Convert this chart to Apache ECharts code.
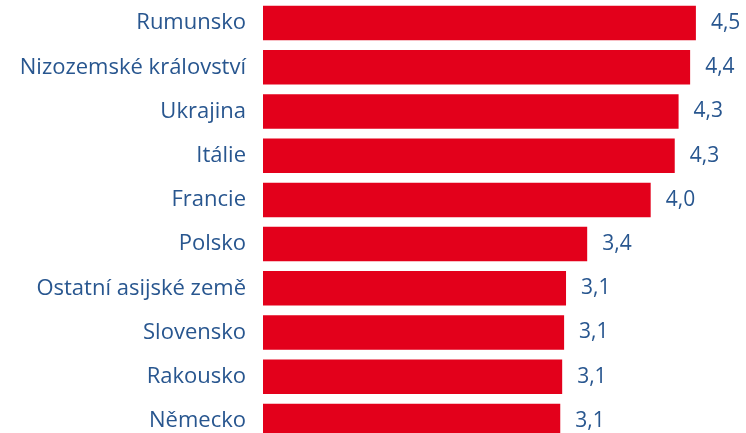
<!DOCTYPE html>
<html>
<head>
<meta charset="utf-8">
<script src="https://cdn.jsdelivr.net/npm/echarts@6/dist/echarts.min.js"></script>
<style>
  html, body { margin: 0; padding: 0; background: #fff; overflow: hidden; }
  /* graf je v originale dole oriznuty, proto je kontejner vyssi nez okno */
  #chart { width: 746px; height: 443px; }
</style>
</head>
<body>
<div id="chart"></div>
<script>
// zeme (shora dolu)
var countries = ['Rumunsko', 'Nizozemské království', 'Ukrajina', 'Itálie', 'Francie',
  'Polsko', 'Ostatní asijské země', 'Slovensko', 'Rakousko', 'Německo'];
// hodnoty odhadnute z delky sloupcu
var values = [4.50, 4.44, 4.32, 4.28, 4.03, 3.37, 3.15, 3.13, 3.11, 3.09];

var textColor = '#28568f';
var barColor = '#e3001b';

var chart = echarts.init(document.getElementById('chart'));

var option = {
  animation: false,
  grid: {
    left: 263,
    right: 2,
    top: 1,
    bottom: 0,
    containLabel: false
  },
  xAxis: {
    type: 'value',
    min: 0,
    max: 5,
    show: false
  },
  yAxis: {
    type: 'category',
    inverse: true,
    data: countries,
    axisLine: { show: false },
    axisTick: { show: false },
    axisLabel: {
      color: textColor,
      fontFamily: 'Open Sans',
      fontSize: 22,
      margin: 17
    }
  },
  series: [{
    type: 'bar',
    data: values,
    barCategoryGap: '22%',
    itemStyle: { color: barColor },
    label: {
      show: true,
      position: 'right',
      distance: 15,
      color: textColor,
      fontFamily: 'Open Sans',
      fontSize: 21,
      formatter: function (p) {
        return p.value.toFixed(1).replace('.', ',');
      }
    }
  }]
};

chart.setOption(option);
</script>
</body>
</html>
